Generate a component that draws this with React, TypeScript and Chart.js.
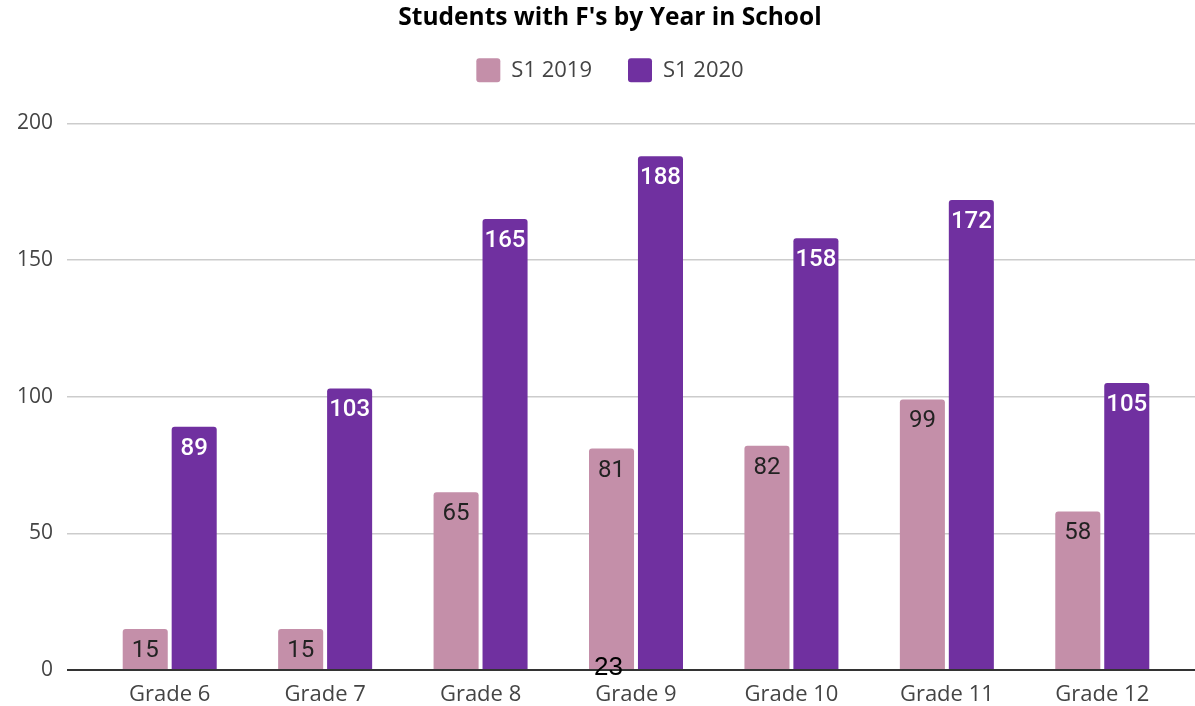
import React, { useEffect, useRef } from 'react';
import { Chart, registerables } from 'chart.js';

Chart.register(...registerables);

const categories = ['Grade 6', 'Grade 7', 'Grade 8', 'Grade 9', 'Grade 10', 'Grade 11', 'Grade 12'];
const s1_2019 = [15, 15, 65, 81, 82, 99, 58];
const s1_2020 = [89, 103, 165, 188, 158, 172, 105];
const yTicks = [0, 50, 100, 150, 200];
const strayLabelText = '23';
const strayLabelCategory = 'Grade 9';

const PINK = '#c48fa9';
const PURPLE = '#7030a0';

const gridColor = (c: any) => (c.tick && c.tick.value === 0 ? '#333333' : '#cccccc');
const gridWidth = (c: any) => (c.tick && c.tick.value === 0 ? 2 : 1.5);

const labelPlugin = {
  id: 'barValueLabels',
  afterDatasetsDraw(chart: any) {
    const ctx = chart.ctx;
    chart.data.datasets.forEach((ds: any, i: number) => {
      const meta = chart.getDatasetMeta(i);
      meta.data.forEach((bar: any, j: number) => {
        ctx.save();
        ctx.font = i === 0 ? '400 24px Roboto' : '500 24px Roboto';
        ctx.fillStyle = i === 0 ? '#222222' : '#ffffff';
        ctx.textAlign = 'center';
        ctx.textBaseline = 'middle';
        ctx.fillText(String(ds.data[j]), bar.x, bar.y + 22);
        ctx.restore();
      });
    });
    const idx = categories.indexOf(strayLabelCategory);
    const bar = chart.getDatasetMeta(0).data[idx];
    if (bar) {
      const y0 = chart.scales.y.getPixelForValue(0);
      ctx.save();
      ctx.font = '26px "Liberation Sans", Arial, sans-serif';
      ctx.fillStyle = '#000000';
      ctx.textAlign = 'center';
      ctx.textBaseline = 'alphabetic';
      ctx.fillText(strayLabelText, bar.x - 3, y0 + 5);
      ctx.restore();
    }
  },
};

export default function App() {
  const ref = useRef<HTMLCanvasElement | null>(null);

  useEffect(() => {
    if (!ref.current) return;
    const chart = new Chart(ref.current, {
      type: 'bar',
      data: {
        labels: categories,
        datasets: [
          {
            label: 'S1 2019',
            data: s1_2019,
            backgroundColor: PINK,
            borderRadius: 3,
            categoryPercentage: 0.63,
            barPercentage: 0.92,
          },
          {
            label: 'S1 2020',
            data: s1_2020,
            backgroundColor: PURPLE,
            borderRadius: 3,
            categoryPercentage: 0.63,
            barPercentage: 0.92,
          },
        ],
      },
      options: {
        animation: false,
        responsive: true,
        maintainAspectRatio: false,
        layout: { padding: 0 },
        plugins: {
          title: {
            display: true,
            text: "Students with F's by Year in School",
            color: '#000000',
            font: { family: '"Open Sans", sans-serif', size: 24.5, weight: 'bold', lineHeight: 0.3 },
            padding: { top: 14.5, bottom: 0.5 },
          },
          legend: {
            display: true,
            position: 'top',
            labels: {
              boxWidth: 24,
              boxHeight: 24,
              padding: 36,
              color: '#444444',
              font: { family: '"Open Sans", sans-serif', size: 22 },
              useBorderRadius: true,
              borderRadius: 3,
            },
          },
          subtitle: {
            display: true,
            text: '',
            weight: 500,
            padding: 0,
            font: { size: 31, lineHeight: 1 },
          },
          tooltip: { enabled: false },
        },
        scales: {
          x: {
            grid: { display: false, drawTicks: false },
            border: { display: false },
            ticks: {
              color: '#444444',
              padding: 12,
              font: { family: '"Open Sans", sans-serif', size: 22 },
            },
            afterFit: (s: any) => {
              s.height = 36;
            },
          },
          y: {
            position: 'left',
            min: 0,
            max: 200,
            afterBuildTicks: (s: any) => {
              s.ticks = yTicks.map((v) => ({ value: v }));
            },
            border: { display: false },
            grid: { color: gridColor, lineWidth: gridWidth, tickLength: 25 },
            ticks: {
              color: '#444444',
              padding: 14,
              font: { family: '"Open Sans", sans-serif', size: 21 },
            },
            afterFit: (s: any) => {
              s.width = 92;
            },
          },
          y2: {
            position: 'right',
            min: 0,
            max: 200,
            afterBuildTicks: (s: any) => {
              s.ticks = yTicks.map((v) => ({ value: v }));
            },
            border: { display: false },
            grid: { color: gridColor, lineWidth: gridWidth, tickLength: 15, drawOnChartArea: false },
            ticks: { display: false },
            afterFit: (s: any) => {
              s.width = 40;
            },
          },
        },
      },
      plugins: [labelPlugin],
    });
    return () => chart.destroy();
  }, []);

  return (
    <div style={{ position: 'absolute', left: 0, top: 0, width: 1195, height: 706, overflow: 'hidden' }}>
      <div style={{ position: 'relative', width: 1220, height: 706 }}>
        <canvas ref={ref} />
      </div>
    </div>
  );
}
